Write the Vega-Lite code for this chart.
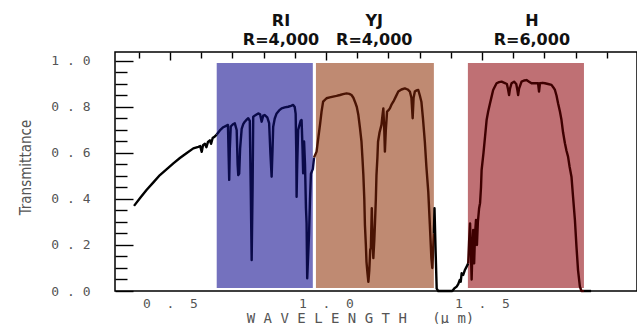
{
  "$schema": "https://vega.github.io/schema/vega-lite/v6.json",
  "width": 522,
  "height": 239,
  "autosize": "none",
  "padding": {"left": 115, "top": 52, "right": 0, "bottom": 33},
  "background": "white",
  "config": {
    "view": {"stroke": "black", "strokeWidth": 1.5},
    "axis": {"grid": true, "ticks": false, "tickSize": 0, "gridColor": "black", "gridWidth": 1.4, "gridOpacity": 1, "zindex": 1, "domain": false, "labelFont": "DejaVu Sans Mono", "labelColor": "#555555", "titleColor": "#555555", "labelOverlap": false, "labelFlush": false, "labelBound": false}
  },
  "datasets": {
    "bands": [
      {"band": "RI", "start": 0.650, "end": 0.958, "lx": 0.856, "res": "R=4,000"},
      {"band": "YJ", "start": 0.968, "end": 1.346, "lx": 1.155, "res": "R=4,000"},
      {"band": "H", "start": 1.455, "end": 1.827, "lx": 1.660, "res": "R=6,000"}
    ],
    "curve": [
      {"w": 0.385, "t": 0.370, "s": "o1"}, {"w": 0.405, "t": 0.405, "s": "o1"}, {"w": 0.425, "t": 0.439, "s": "o1"}, {"w": 0.447, "t": 0.472, "s": "o1"},
      {"w": 0.468, "t": 0.504, "s": "o1"}, {"w": 0.490, "t": 0.530, "s": "o1"}, {"w": 0.511, "t": 0.555, "s": "o1"}, {"w": 0.532, "t": 0.578, "s": "o1"},
      {"w": 0.553, "t": 0.599, "s": "o1"}, {"w": 0.575, "t": 0.620, "s": "o1"}, {"w": 0.591, "t": 0.627, "s": "o1"}, {"w": 0.597, "t": 0.630, "s": "o1"},
      {"w": 0.602, "t": 0.605, "s": "o1"}, {"w": 0.606, "t": 0.634, "s": "o1"}, {"w": 0.612, "t": 0.640, "s": "o1"}, {"w": 0.617, "t": 0.625, "s": "o1"},
      {"w": 0.622, "t": 0.648, "s": "o1"}, {"w": 0.628, "t": 0.655, "s": "o1"}, {"w": 0.632, "t": 0.640, "s": "o1"}, {"w": 0.637, "t": 0.665, "s": "o1"},
      {"w": 0.644, "t": 0.672, "s": "o1"}, {"w": 0.650, "t": 0.680, "s": "o1"},
      {"w": 0.650, "t": 0.680, "s": "RI"}, {"w": 0.660, "t": 0.698, "s": "RI"}, {"w": 0.671, "t": 0.712, "s": "RI"}, {"w": 0.680, "t": 0.718, "s": "RI"},
      {"w": 0.686, "t": 0.722, "s": "RI"}, {"w": 0.688, "t": 0.600, "s": "RI"}, {"w": 0.690, "t": 0.483, "s": "RI"}, {"w": 0.692, "t": 0.620, "s": "RI"},
      {"w": 0.695, "t": 0.715, "s": "RI"}, {"w": 0.702, "t": 0.725, "s": "RI"}, {"w": 0.708, "t": 0.729, "s": "RI"}, {"w": 0.714, "t": 0.700, "s": "RI"},
      {"w": 0.717, "t": 0.550, "s": "RI"}, {"w": 0.719, "t": 0.504, "s": "RI"}, {"w": 0.722, "t": 0.510, "s": "RI"}, {"w": 0.725, "t": 0.620, "s": "RI"},
      {"w": 0.730, "t": 0.705, "s": "RI"}, {"w": 0.735, "t": 0.725, "s": "RI"}, {"w": 0.740, "t": 0.736, "s": "RI"}, {"w": 0.746, "t": 0.745, "s": "RI"},
      {"w": 0.751, "t": 0.751, "s": "RI"}, {"w": 0.756, "t": 0.740, "s": "RI"}, {"w": 0.759, "t": 0.450, "s": "RI"}, {"w": 0.762, "t": 0.135, "s": "RI"},
      {"w": 0.765, "t": 0.450, "s": "RI"}, {"w": 0.767, "t": 0.758, "s": "RI"}, {"w": 0.775, "t": 0.765, "s": "RI"}, {"w": 0.783, "t": 0.772, "s": "RI"},
      {"w": 0.789, "t": 0.768, "s": "RI"}, {"w": 0.794, "t": 0.736, "s": "RI"}, {"w": 0.799, "t": 0.762, "s": "RI"}, {"w": 0.804, "t": 0.765, "s": "RI"},
      {"w": 0.812, "t": 0.755, "s": "RI"}, {"w": 0.818, "t": 0.730, "s": "RI"}, {"w": 0.822, "t": 0.600, "s": "RI"}, {"w": 0.826, "t": 0.497, "s": "RI"},
      {"w": 0.829, "t": 0.620, "s": "RI"}, {"w": 0.831, "t": 0.714, "s": "RI"}, {"w": 0.836, "t": 0.750, "s": "RI"}, {"w": 0.842, "t": 0.772, "s": "RI"},
      {"w": 0.850, "t": 0.785, "s": "RI"}, {"w": 0.858, "t": 0.794, "s": "RI"}, {"w": 0.868, "t": 0.798, "s": "RI"}, {"w": 0.879, "t": 0.801, "s": "RI"},
      {"w": 0.888, "t": 0.805, "s": "RI"}, {"w": 0.895, "t": 0.809, "s": "RI"}, {"w": 0.900, "t": 0.800, "s": "RI"}, {"w": 0.903, "t": 0.770, "s": "RI"},
      {"w": 0.905, "t": 0.600, "s": "RI"}, {"w": 0.906, "t": 0.410, "s": "RI"}, {"w": 0.908, "t": 0.550, "s": "RI"}, {"w": 0.911, "t": 0.700, "s": "RI"},
      {"w": 0.915, "t": 0.720, "s": "RI"}, {"w": 0.919, "t": 0.740, "s": "RI"}, {"w": 0.922, "t": 0.743, "s": "RI"}, {"w": 0.925, "t": 0.620, "s": "RI"},
      {"w": 0.927, "t": 0.512, "s": "RI"}, {"w": 0.930, "t": 0.650, "s": "RI"}, {"w": 0.933, "t": 0.550, "s": "RI"}, {"w": 0.936, "t": 0.360, "s": "RI"},
      {"w": 0.938, "t": 0.295, "s": "RI"}, {"w": 0.940, "t": 0.055, "s": "RI"}, {"w": 0.943, "t": 0.150, "s": "RI"}, {"w": 0.946, "t": 0.250, "s": "RI"},
      {"w": 0.949, "t": 0.400, "s": "RI"}, {"w": 0.952, "t": 0.510, "s": "RI"}, {"w": 0.955, "t": 0.520, "s": "RI"}, {"w": 0.958, "t": 0.530, "s": "RI"},
      {"w": 0.962, "t": 0.580, "s": "RI"},
      {"w": 0.962, "t": 0.580, "s": "YJ"}, {"w": 0.970, "t": 0.606, "s": "YJ"}, {"w": 0.976, "t": 0.670, "s": "YJ"}, {"w": 0.981, "t": 0.722, "s": "YJ"},
      {"w": 0.986, "t": 0.780, "s": "YJ"}, {"w": 0.991, "t": 0.823, "s": "YJ"}, {"w": 1.002, "t": 0.838, "s": "YJ"}, {"w": 1.012, "t": 0.842, "s": "YJ"},
      {"w": 1.023, "t": 0.845, "s": "YJ"}, {"w": 1.034, "t": 0.848, "s": "YJ"}, {"w": 1.045, "t": 0.852, "s": "YJ"}, {"w": 1.055, "t": 0.856, "s": "YJ"},
      {"w": 1.066, "t": 0.859, "s": "YJ"}, {"w": 1.075, "t": 0.857, "s": "YJ"}, {"w": 1.082, "t": 0.852, "s": "YJ"}, {"w": 1.088, "t": 0.840, "s": "YJ"},
      {"w": 1.093, "t": 0.823, "s": "YJ"}, {"w": 1.099, "t": 0.800, "s": "YJ"}, {"w": 1.104, "t": 0.765, "s": "YJ"}, {"w": 1.109, "t": 0.710, "s": "YJ"},
      {"w": 1.114, "t": 0.649, "s": "YJ"}, {"w": 1.117, "t": 0.580, "s": "YJ"}, {"w": 1.120, "t": 0.504, "s": "YJ"}, {"w": 1.123, "t": 0.400, "s": "YJ"},
      {"w": 1.125, "t": 0.287, "s": "YJ"}, {"w": 1.128, "t": 0.200, "s": "YJ"}, {"w": 1.130, "t": 0.127, "s": "YJ"}, {"w": 1.133, "t": 0.080, "s": "YJ"},
      {"w": 1.136, "t": 0.040, "s": "YJ"}, {"w": 1.139, "t": 0.090, "s": "YJ"}, {"w": 1.142, "t": 0.180, "s": "YJ"}, {"w": 1.144, "t": 0.187, "s": "YJ"},
      {"w": 1.147, "t": 0.360, "s": "YJ"}, {"w": 1.150, "t": 0.200, "s": "YJ"}, {"w": 1.152, "t": 0.143, "s": "YJ"}, {"w": 1.155, "t": 0.220, "s": "YJ"},
      {"w": 1.157, "t": 0.287, "s": "YJ"}, {"w": 1.160, "t": 0.400, "s": "YJ"}, {"w": 1.162, "t": 0.504, "s": "YJ"}, {"w": 1.165, "t": 0.580, "s": "YJ"},
      {"w": 1.167, "t": 0.649, "s": "YJ"}, {"w": 1.172, "t": 0.690, "s": "YJ"}, {"w": 1.178, "t": 0.722, "s": "YJ"}, {"w": 1.181, "t": 0.760, "s": "YJ"},
      {"w": 1.184, "t": 0.794, "s": "YJ"}, {"w": 1.187, "t": 0.700, "s": "YJ"}, {"w": 1.189, "t": 0.606, "s": "YJ"}, {"w": 1.192, "t": 0.700, "s": "YJ"},
      {"w": 1.196, "t": 0.780, "s": "YJ"}, {"w": 1.200, "t": 0.785, "s": "YJ"}, {"w": 1.205, "t": 0.794, "s": "YJ"}, {"w": 1.210, "t": 0.810, "s": "YJ"},
      {"w": 1.216, "t": 0.823, "s": "YJ"}, {"w": 1.224, "t": 0.845, "s": "YJ"}, {"w": 1.232, "t": 0.867, "s": "YJ"}, {"w": 1.242, "t": 0.876, "s": "YJ"},
      {"w": 1.253, "t": 0.881, "s": "YJ"}, {"w": 1.262, "t": 0.876, "s": "YJ"}, {"w": 1.269, "t": 0.867, "s": "YJ"}, {"w": 1.274, "t": 0.840, "s": "YJ"},
      {"w": 1.278, "t": 0.751, "s": "YJ"}, {"w": 1.281, "t": 0.840, "s": "YJ"}, {"w": 1.285, "t": 0.867, "s": "YJ"}, {"w": 1.290, "t": 0.872, "s": "YJ"},
      {"w": 1.296, "t": 0.874, "s": "YJ"}, {"w": 1.301, "t": 0.850, "s": "YJ"}, {"w": 1.306, "t": 0.823, "s": "YJ"}, {"w": 1.311, "t": 0.750, "s": "YJ"},
      {"w": 1.317, "t": 0.649, "s": "YJ"}, {"w": 1.322, "t": 0.540, "s": "YJ"}, {"w": 1.328, "t": 0.432, "s": "YJ"}, {"w": 1.333, "t": 0.290, "s": "YJ"},
      {"w": 1.338, "t": 0.142, "s": "YJ"}, {"w": 1.341, "t": 0.100, "s": "YJ"}, {"w": 1.346, "t": 0.250, "s": "YJ"},
      {"w": 1.346, "t": 0.250, "s": "o2"}, {"w": 1.348, "t": 0.360, "s": "o2"}, {"w": 1.351, "t": 0.200, "s": "o2"}, {"w": 1.355, "t": 0.010, "s": "o2"},
      {"w": 1.360, "t": 0.000, "s": "o2"}, {"w": 1.405, "t": 0.000, "s": "o2"}, {"w": 1.412, "t": 0.012, "s": "o2"}, {"w": 1.419, "t": 0.019, "s": "o2"},
      {"w": 1.424, "t": 0.030, "s": "o2"}, {"w": 1.429, "t": 0.048, "s": "o2"}, {"w": 1.432, "t": 0.040, "s": "o2"}, {"w": 1.435, "t": 0.077, "s": "o2"},
      {"w": 1.440, "t": 0.070, "s": "o2"}, {"w": 1.445, "t": 0.090, "s": "o2"}, {"w": 1.451, "t": 0.106, "s": "o2"}, {"w": 1.456, "t": 0.120, "s": "o2"},
      {"w": 1.456, "t": 0.120, "s": "H"}, {"w": 1.459, "t": 0.220, "s": "H"}, {"w": 1.462, "t": 0.294, "s": "H"}, {"w": 1.465, "t": 0.150, "s": "H"},
      {"w": 1.467, "t": 0.050, "s": "H"}, {"w": 1.470, "t": 0.200, "s": "H"}, {"w": 1.472, "t": 0.265, "s": "H"}, {"w": 1.475, "t": 0.120, "s": "H"},
      {"w": 1.478, "t": 0.250, "s": "H"}, {"w": 1.481, "t": 0.309, "s": "H"}, {"w": 1.484, "t": 0.200, "s": "H"}, {"w": 1.487, "t": 0.300, "s": "H"},
      {"w": 1.491, "t": 0.360, "s": "H"}, {"w": 1.494, "t": 0.382, "s": "H"}, {"w": 1.497, "t": 0.450, "s": "H"}, {"w": 1.499, "t": 0.526, "s": "H"},
      {"w": 1.505, "t": 0.600, "s": "H"}, {"w": 1.510, "t": 0.671, "s": "H"}, {"w": 1.515, "t": 0.743, "s": "H"}, {"w": 1.520, "t": 0.780, "s": "H"},
      {"w": 1.526, "t": 0.816, "s": "H"}, {"w": 1.531, "t": 0.845, "s": "H"}, {"w": 1.536, "t": 0.874, "s": "H"}, {"w": 1.542, "t": 0.890, "s": "H"},
      {"w": 1.547, "t": 0.903, "s": "H"}, {"w": 1.555, "t": 0.908, "s": "H"}, {"w": 1.563, "t": 0.910, "s": "H"}, {"w": 1.572, "t": 0.905, "s": "H"},
      {"w": 1.580, "t": 0.900, "s": "H"}, {"w": 1.584, "t": 0.875, "s": "H"}, {"w": 1.587, "t": 0.852, "s": "H"}, {"w": 1.590, "t": 0.880, "s": "H"},
      {"w": 1.595, "t": 0.903, "s": "H"}, {"w": 1.603, "t": 0.910, "s": "H"}, {"w": 1.610, "t": 0.900, "s": "H"}, {"w": 1.614, "t": 0.870, "s": "H"},
      {"w": 1.616, "t": 0.852, "s": "H"}, {"w": 1.619, "t": 0.880, "s": "H"}, {"w": 1.627, "t": 0.910, "s": "H"}, {"w": 1.635, "t": 0.915, "s": "H"},
      {"w": 1.643, "t": 0.917, "s": "H"}, {"w": 1.651, "t": 0.910, "s": "H"}, {"w": 1.659, "t": 0.903, "s": "H"}, {"w": 1.670, "t": 0.903, "s": "H"},
      {"w": 1.680, "t": 0.903, "s": "H"}, {"w": 1.683, "t": 0.867, "s": "H"}, {"w": 1.686, "t": 0.903, "s": "H"}, {"w": 1.695, "t": 0.905, "s": "H"},
      {"w": 1.702, "t": 0.903, "s": "H"}, {"w": 1.712, "t": 0.900, "s": "H"}, {"w": 1.723, "t": 0.896, "s": "H"}, {"w": 1.729, "t": 0.885, "s": "H"},
      {"w": 1.734, "t": 0.874, "s": "H"}, {"w": 1.739, "t": 0.850, "s": "H"}, {"w": 1.744, "t": 0.816, "s": "H"}, {"w": 1.750, "t": 0.780, "s": "H"},
      {"w": 1.755, "t": 0.743, "s": "H"}, {"w": 1.760, "t": 0.690, "s": "H"}, {"w": 1.766, "t": 0.642, "s": "H"}, {"w": 1.771, "t": 0.610, "s": "H"},
      {"w": 1.776, "t": 0.584, "s": "H"}, {"w": 1.781, "t": 0.540, "s": "H"}, {"w": 1.787, "t": 0.497, "s": "H"}, {"w": 1.792, "t": 0.410, "s": "H"},
      {"w": 1.798, "t": 0.309, "s": "H"}, {"w": 1.803, "t": 0.193, "s": "H"}, {"w": 1.808, "t": 0.091, "s": "H"}, {"w": 1.814, "t": 0.019, "s": "H"},
      {"w": 1.819, "t": 0.000, "s": "H"}, {"w": 1.827, "t": 0.000, "s": "H"},
      {"w": 1.827, "t": 0.000, "s": "o3"}, {"w": 1.850, "t": 0.000, "s": "o3"}
    ]
  },
  "layer": [
    {
      "data": {"name": "bands"},
      "mark": {"type": "rect"},
      "encoding": {
        "x": {
          "field": "start", "type": "quantitative",
          "scale": {"domain": [0.324, 1.997], "nice": false, "zero": false},
          "axis": {
            "orient": "bottom",
            "values": [0.4, 0.5, 0.6, 0.7, 0.8, 0.9, 1.0, 1.1, 1.2, 1.3, 1.4, 1.5, 1.6, 1.7, 1.8, 1.9],
            "labelExpr": "abs(datum.value*2 - round(datum.value*2)) < 0.01 ? replace(format(datum.value, '.1f'), '.', '\u00a0\u00a0.\u00a0\u00a0') : ''",
            "gridDash": {"condition": {"test": "abs(datum.value*2 - round(datum.value*2)) < 0.01", "value": [8, 1000]}, "value": [6, 1000]},
            "labelFontSize": 13,
            "labelPadding": 6,
            "title": "W A V E L E N G T H\u00a0\u00a0\u00a0(µ\u00a0m)",
            "titleFont": "DejaVu Sans Mono",
            "titleFontSize": 14,
            "titleFontWeight": "normal",
            "titleX": 245,
            "titleY": 31,
            "titleAlign": "center",
            "titleBaseline": "alphabetic"
          }
        },
        "x2": {"field": "end"},
        "y": {
          "datum": 0.013, "type": "quantitative",
          "scale": {"domain": [0, 1.039], "nice": false, "zero": false},
          "axis": {
            "orient": "left",
            "values": [0, 0.05, 0.1, 0.15, 0.2, 0.25, 0.3, 0.35, 0.4, 0.45, 0.5, 0.55, 0.6, 0.65, 0.7, 0.75, 0.8, 0.85, 0.9, 0.95, 1.0],
            "labelExpr": "abs(datum.value*5 - round(datum.value*5)) < 0.01 ? replace(format(datum.value, '.1f'), '.', '\u00a0.\u00a0') : ''",
            "gridDash": {"condition": {"test": "abs(datum.value*5 - round(datum.value*5)) < 0.01", "value": [18, 1000]}, "value": [12, 1000]},
            "labelFontSize": 13,
            "labelPadding": 25,
            "labelBaseline": "middle",
            "title": "Transmittance",
            "titleFont": "DejaVu Sans Condensed, Liberation Sans, sans-serif",
            "titleFontSize": 15,
            "titleFontWeight": "normal",
            "titleAngle": -90,
            "titleX": -90,
            "titleY": 115,
            "titleAlign": "center",
            "titleBaseline": "middle"
          }
        },
        "y2": {"datum": 0.991},
        "color": {
          "field": "band", "type": "nominal",
          "scale": {"domain": ["RI", "YJ", "H"], "range": ["#7471be", "#bf8a72", "#bf7074"]},
          "legend": null
        }
      }
    },
    {
      "data": {"name": "curve"},
      "mark": {"type": "line", "strokeWidth": 2.4, "strokeJoin": "round"},
      "encoding": {
        "x": {
          "field": "w", "type": "quantitative",
          "axis": {
            "orient": "top",
            "values": [0.4, 0.5, 0.6, 0.7, 0.8, 0.9, 1.0, 1.1, 1.2, 1.3, 1.4, 1.5, 1.6, 1.7, 1.8, 1.9],
            "labels": false,
            "gridDash": {"condition": {"test": "abs(datum.value*2 - round(datum.value*2)) < 0.01", "value": [8, 1000]}, "value": [5, 1000]},
            "title": null
          }
        },
        "y": {
          "field": "t", "type": "quantitative",
          "axis": {
            "orient": "right",
            "values": [0, 0.05, 0.1, 0.15, 0.2, 0.25, 0.3, 0.35, 0.4, 0.45, 0.5, 0.55, 0.6, 0.65, 0.7, 0.75, 0.8, 0.85, 0.9, 0.95, 1.0],
            "labels": false,
            "gridDash": {"condition": {"test": "abs(datum.value*5 - round(datum.value*5)) < 0.01", "value": [15, 1000]}, "value": [5, 1000]},
            "title": null
          }
        },
        "color": {
          "field": "s", "type": "nominal",
          "scale": {"domain": ["o1", "RI", "YJ", "o2", "H", "o3"], "range": ["#000000", "#0a0a48", "#4a1404", "#000000", "#3e0000", "#000000"]},
          "legend": null
        }
      }
    },
    {
      "data": {"name": "bands"},
      "mark": {"type": "text", "font": "DejaVu Sans", "fontWeight": "bold", "fontSize": 16, "dy": -26, "baseline": "alphabetic", "align": "center", "color": "#111111"},
      "encoding": {
        "x": {"field": "lx", "type": "quantitative", "axis": null},
        "y": {"datum": 1.039, "type": "quantitative", "axis": null},
        "text": {"field": "band"}
      }
    },
    {
      "data": {"name": "bands"},
      "mark": {"type": "text", "font": "DejaVu Sans", "fontWeight": "bold", "fontSize": 16, "dy": -7, "baseline": "alphabetic", "align": "center", "color": "#111111"},
      "encoding": {
        "x": {"field": "lx", "type": "quantitative", "axis": null},
        "y": {"datum": 1.039, "type": "quantitative", "axis": null},
        "text": {"field": "res"}
      }
    }
  ],
  "resolve": {"axis": {"x": "independent", "y": "independent"}, "scale": {"color": "independent"}}
}
